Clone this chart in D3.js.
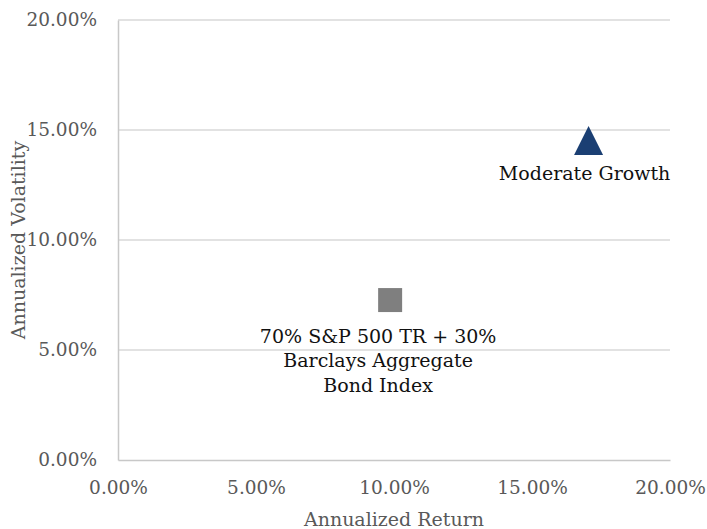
<!DOCTYPE html>
<meta charset="utf-8">
<title>Return vs Volatility</title>
<script src="https://d3js.org/d3.v7.min.js"></script>
<style>
  body { margin: 0; background: #fff; }
  text { font-family: "DejaVu Serif", serif; }
</style>
<body>
<script>
    // series values (annualized return, annualized volatility)
    let names = ["Moderate Growth", "70% S&P 500 TR + 30% Barclays Aggregate Bond Index"];
    let labelLines = [["Moderate Growth"], ["70% S&P 500 TR + 30%", "Barclays Aggregate", "Bond Index"]];
    let returns = [0.1705, 0.0986];
    let vols = [0.1452, 0.0727];
    let shapes = ["triangle", "square"];
    let colors = ["#1b3f73", "#7f7f7f"];
    let ticks = [0, 0.05, 0.10, 0.15, 0.20];

    let W = 707, H = 529;
    let m = {left: 118, right: 37, top: 20, bottom: 69};

    let svg = d3.select("body").append("svg").attr("width", W).attr("height", H);

    let x = d3.scaleLinear().domain([0, 0.2]).range([m.left, W - m.right]);
    let y = d3.scaleLinear().domain([0, 0.2]).range([H - m.bottom, m.top]);
    let fmt = d3.format(".2%");

    // gridlines
    svg.append("g").selectAll("line").data(ticks.slice(1)).enter().append("line")
        .attr("x1", x(0)).attr("x2", x(0.2))
        .attr("y1", d => y(d)).attr("y2", d => y(d))
        .attr("stroke", "#d9d9d9").attr("stroke-width", 1.3);

    // axes
    let xAxis = svg.append("g").attr("transform", `translate(0,${y(0)})`)
        .call(d3.axisBottom(x).tickValues(ticks).tickFormat(fmt).tickSize(0).tickPadding(21));
    let yAxis = svg.append("g").attr("transform", `translate(${x(0)},0)`)
        .call(d3.axisLeft(y).tickValues(ticks).tickFormat(fmt).tickSize(0).tickPadding(21));
    [xAxis, yAxis].forEach(a => {
        a.select(".domain").attr("stroke", "#c8c8c8").attr("stroke-width", 1.5);
        a.selectAll("text").attr("fill", "#595959").style("font-size", "18.5px")
            .style("font-family", "DejaVu Serif, serif");
    });

    // axis titles
    svg.append("text").attr("x", x(0.1)).attr("y", 526).attr("text-anchor", "middle")
        .attr("fill", "#595959").style("font-size", "19px").text("Annualized Return");
    svg.append("text").attr("transform", `translate(25,${y(0.1)}) rotate(-90)`)
        .attr("text-anchor", "middle").attr("fill", "#595959").style("font-size", "19px")
        .text("Annualized Volatility");

    // points
    let tri = d3.line()([[0, -14.5], [14.5, 14.5], [-14.5, 14.5]]) + "Z";
    svg.append("g").selectAll("path").data(names).enter().append("path")
        .attr("transform", (d, i) => `translate(${x(returns[i])},${y(vols[i])})`)
        .attr("d", (d, i) => shapes[i] == "triangle" ? tri : d3.symbol(d3.symbolSquare, 576)())
        .attr("fill", (d, i) => colors[i]);

    // data labels
    let lab = svg.append("g").selectAll("text").data(names).enter().append("text")
        .attr("text-anchor", "middle")
        .attr("x", (d, i) => x(returns[i]) + (i == 0 ? -4 : -12))
        .attr("y", (d, i) => y(vols[i]) + (i == 0 ? 39.5 : 42.7))
        .attr("fill", "#111").style("font-size", "19px");
    lab.selectAll("tspan").data((d, i) => labelLines[i]).enter().append("tspan")
        .attr("x", function () { return this.parentNode.getAttribute("x"); })
        .attr("dy", (d, j) => j == 0 ? 0 : 24.5)
        .text(d => d);
</script>
</body>
